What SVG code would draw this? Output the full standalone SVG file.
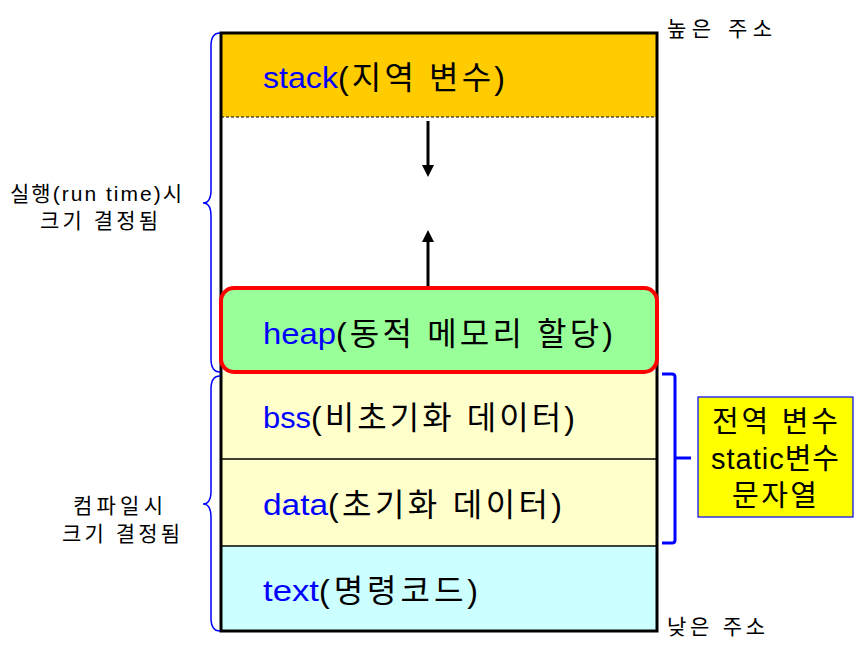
<svg xmlns="http://www.w3.org/2000/svg" width="857" height="664" viewBox="0 0 857 664">
<defs>
<style>
.lbl{font-family:"Liberation Sans","Noto Sans CJK KR",sans-serif;font-size:32px;fill:#000}
.en{font-family:"Liberation Sans",sans-serif;font-size:30px;fill:#0000FF}
.side{font-family:"Liberation Sans","Noto Sans CJK KR",sans-serif;font-size:21px;fill:#000}
.box{font-family:"Liberation Sans","Noto Sans CJK KR",sans-serif;font-size:29px;fill:#000}
.brace{fill:none;stroke:#0000FF;stroke-width:1.5}
.seg{stroke:#000;stroke-width:1.5}
</style>
<marker id="ah" markerWidth="4" markerHeight="4" refX="2" refY="2" orient="auto" markerUnits="strokeWidth">
<path d="M0,0 L4,2 L0,4 Z" fill="#000"/>
</marker>
</defs>
<rect width="857" height="664" fill="#fff"/>
<g id="stack">
<rect x="221" y="33" width="436" height="84" fill="#FFCC00"/>
<text class="en" x="263" y="88" textLength="75" lengthAdjust="spacingAndGlyphs">stack</text>
<text class="lbl" x="338" y="89" textLength="167" lengthAdjust="spacing">(지역 변수)</text>
</g>
<g id="free">
<rect x="221" y="117" width="436" height="171" fill="#fff"/>
<line x1="221" y1="117" x2="657" y2="117" stroke="#000" stroke-width="1.2" stroke-dasharray="3,2"/>
</g>
<g id="bss">
<rect x="221" y="372" width="436" height="87" fill="#FFFFCC"/>
<text class="en" x="263" y="428" textLength="48" lengthAdjust="spacingAndGlyphs">bss</text>
<text class="lbl" x="311" y="429" textLength="264" lengthAdjust="spacing">(비초기화 데이터)</text>
</g>
<g id="data">
<rect x="221" y="459" width="436" height="87" fill="#FFFFCC"/>
<line class="seg" x1="221" y1="459" x2="657" y2="459"/>
<text class="en" x="263" y="515" textLength="65" lengthAdjust="spacingAndGlyphs">data</text>
<text class="lbl" x="328" y="516" textLength="234" lengthAdjust="spacing">(초기화 데이터)</text>
</g>
<g id="text">
<rect x="221" y="546" width="436" height="85" fill="#CCFFFF"/>
<line class="seg" x1="221" y1="546" x2="657" y2="546"/>
<text class="en" x="263" y="601" textLength="56" lengthAdjust="spacingAndGlyphs">text</text>
<text class="lbl" x="319" y="602" textLength="159" lengthAdjust="spacing">(명령코드)</text>
</g>
<g id="outline">
<rect x="221" y="33" width="436" height="598" fill="none" stroke="#000" stroke-width="3"/>
</g>
<g id="heap">
<rect x="221" y="288" width="436" height="84" rx="13" ry="13" fill="#99FF99" stroke="#FF0000" stroke-width="4"/>
<text class="en" x="263" y="344" textLength="73" lengthAdjust="spacingAndGlyphs">heap</text>
<text class="lbl" x="336" y="345" textLength="277" lengthAdjust="spacing">(동적 메모리 할당)</text>
</g>
<g id="connectors">
<line x1="428" y1="121" x2="428" y2="171" stroke="#000" stroke-width="3" marker-end="url(#ah)"/>
<line x1="428" y1="286" x2="428" y2="236" stroke="#000" stroke-width="3" marker-end="url(#ah)"/>
<path class="brace" d="M220,33 Q211,33 211,46 V190 Q211,203 203,203 Q211,203 211,216 V359 Q211,372 220,372"/>
<path class="brace" d="M220,376 Q211,376 211,389 V491 Q211,504 203,504 Q211,504 211,517 V618 Q211,631 220,631"/>
<path d="M662,374 H672 Q675,374 675,377 V458 H691 M675,458 V540 Q675,543 672,543 H662" fill="none" stroke="#0000FF" stroke-width="3"/>
</g>
<g id="runtime-label">
<text class="side" x="10" y="201" textLength="172" lengthAdjust="spacing">실행(run time)시</text>
<text class="side" x="40" y="228" textLength="118" lengthAdjust="spacing">크기 결정됨</text>
</g>
<g id="compile-label">
<text class="side" x="73" y="513" textLength="90" lengthAdjust="spacing">컴파일시</text>
<text class="side" x="62" y="541" textLength="118" lengthAdjust="spacing">크기 결정됨</text>
</g>
<g id="high-addr">
<text class="side" x="667" y="36" textLength="105" lengthAdjust="spacing">높은 주소</text>
</g>
<g id="low-addr">
<text class="side" x="667" y="634" textLength="98" lengthAdjust="spacing">낮은 주소</text>
</g>
<g id="global-box">
<rect x="698" y="397" width="155" height="120" fill="#FFFF00" stroke="#0000FF" stroke-width="1.2"/>
<text class="box" x="712" y="432" textLength="126" lengthAdjust="spacing">전역 변수</text>
<text class="box" x="711" y="469" textLength="128" lengthAdjust="spacing">static변수</text>
<text class="box" x="732" y="506" textLength="85" lengthAdjust="spacing">문자열</text>
</g>
</svg>
